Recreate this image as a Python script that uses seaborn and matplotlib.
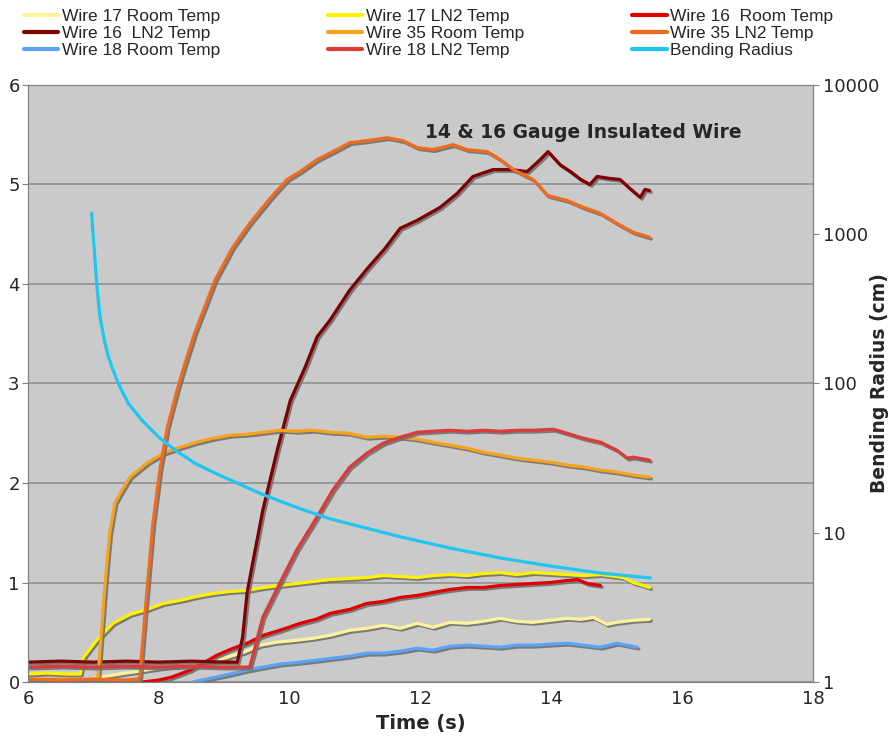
import pandas as pd
import seaborn as sns
import matplotlib.pyplot as plt
import matplotlib.patheffects as pe
from matplotlib.lines import Line2D

# data (time in s, left axis values)
w17_room_t = [7.0, 7.3, 7.6, 8.0, 8.5, 9.0, 9.3, 9.55, 9.8, 10.11, 10.36, 10.62, 10.92, 11.18, 11.43, 11.69, 11.95, 12.19, 12.45, 12.71,
              12.96, 13.22, 13.47, 13.72, 13.98, 14.24, 14.45, 14.64, 14.85, 15.0, 15.25, 15.5]
w17_room_v = [0.04, 0.07, 0.10, 0.14, 0.18, 0.24, 0.30, 0.37, 0.40, 0.42, 0.44, 0.47, 0.52, 0.54, 0.57, 0.54, 0.59, 0.55, 0.60, 0.59,
              0.61, 0.64, 0.61, 0.60, 0.62, 0.64, 0.63, 0.65, 0.58, 0.60, 0.62, 0.63]

w17_ln2_t = [6.0, 6.3, 6.6, 6.8, 6.84, 7.05, 7.3, 7.56, 7.82, 8.07, 8.32, 8.58, 8.83, 9.09, 9.35, 9.6, 9.85, 10.1, 10.36, 10.62,
             10.9, 11.18, 11.43, 11.69, 11.95, 12.19, 12.45, 12.71, 12.96, 13.22, 13.47, 13.72, 13.98, 14.24, 14.5, 14.75, 15.0, 15.1, 15.25, 15.5]
w17_ln2_v = [0.08, 0.09, 0.08, 0.08, 0.24, 0.42, 0.59, 0.68, 0.73, 0.79, 0.82, 0.86, 0.89, 0.91, 0.92, 0.95, 0.97, 0.99, 1.01, 1.03,
             1.04, 1.05, 1.07, 1.06, 1.05, 1.07, 1.08, 1.07, 1.09, 1.10, 1.08, 1.10, 1.09, 1.08, 1.07, 1.08, 1.06, 1.05, 1.0, 0.95]

w16_room_t = [7.75, 8.0, 8.2, 8.48, 8.7, 8.89, 9.1, 9.35, 9.6, 9.85, 10.16, 10.4, 10.62, 10.92, 11.18, 11.43, 11.69, 11.95, 12.19, 12.45,
              12.71, 12.96, 13.22, 13.47, 13.72, 13.98, 14.24, 14.4, 14.55, 14.75]
w16_room_v = [0.0, 0.02, 0.05, 0.12, 0.2, 0.27, 0.33, 0.39, 0.47, 0.52, 0.59, 0.63, 0.69, 0.73, 0.79, 0.81, 0.85, 0.87, 0.90, 0.93,
              0.95, 0.95, 0.97, 0.98, 0.99, 1.0, 1.02, 1.03, 0.99, 0.97]

w16_ln2_t = [6.0, 6.5, 7.0, 7.5, 8.0, 8.5, 9.0, 9.2, 9.28, 9.35, 9.45, 9.59, 9.81, 10.01, 10.24, 10.42, 10.62, 10.92, 11.18, 11.46,
             11.69, 11.95, 12.3, 12.56, 12.8, 13.11, 13.37, 13.63, 13.83, 13.95, 14.13, 14.29, 14.45, 14.59, 14.7, 14.9, 15.05, 15.2, 15.36, 15.43, 15.5]
w16_ln2_v = [0.20, 0.21, 0.20, 0.21, 0.20, 0.21, 0.20, 0.20, 0.45, 0.90, 1.25, 1.73, 2.33, 2.83, 3.17, 3.47, 3.64, 3.94, 4.15, 4.36,
             4.56, 4.64, 4.77, 4.91, 5.08, 5.15, 5.15, 5.13, 5.25, 5.33, 5.20, 5.13, 5.05, 5.0, 5.08, 5.06, 5.05, 4.96, 4.87, 4.95, 4.94]

w35_room_t = [6.0, 6.5, 7.0, 7.07, 7.18, 7.25, 7.33, 7.44, 7.56, 7.82, 8.07, 8.33, 8.58, 8.83, 9.09, 9.35, 9.6, 9.85, 10.1, 10.35,
              10.62, 10.9, 11.18, 11.45, 11.69, 11.95, 12.19, 12.45, 12.71, 12.96, 13.22, 13.47, 13.72, 13.98, 14.24, 14.5, 14.75, 15.0, 15.25, 15.5]
w35_room_v = [0.02, 0.03, 0.02, 0.05, 1.0, 1.5, 1.80, 1.93, 2.06, 2.20, 2.30, 2.36, 2.41, 2.45, 2.48, 2.49, 2.51, 2.53, 2.52, 2.53,
              2.51, 2.50, 2.46, 2.47, 2.46, 2.44, 2.41, 2.38, 2.35, 2.31, 2.28, 2.25, 2.23, 2.21, 2.18, 2.16, 2.13, 2.11, 2.08, 2.06]

w35_ln2_t = [6.0, 6.5, 7.0, 7.5, 7.68, 7.71, 7.79, 7.91, 8.02, 8.13, 8.29, 8.4, 8.55, 8.86, 9.13, 9.39, 9.7, 9.96, 10.16, 10.42,
             10.66, 10.92, 11.18, 11.49, 11.73, 11.95, 12.19, 12.5, 12.71, 13.02, 13.22, 13.42, 13.72, 13.94, 14.24, 14.49, 14.75, 15.0, 15.25, 15.5]
w35_ln2_v = [0.03, 0.02, 0.03, 0.02, 0.03, 0.05, 0.70, 1.60, 2.15, 2.56, 2.96, 3.20, 3.51, 4.04, 4.37, 4.61, 4.86, 5.05, 5.13, 5.25,
             5.33, 5.42, 5.44, 5.47, 5.44, 5.37, 5.35, 5.40, 5.35, 5.33, 5.25, 5.15, 5.05, 4.89, 4.84, 4.77, 4.71, 4.61, 4.52, 4.47]

w18_room_t = [8.52, 8.8, 9.09, 9.35, 9.59, 9.85, 10.16, 10.42, 10.66, 10.92, 11.18, 11.43, 11.69, 11.95, 12.19, 12.45, 12.71, 12.96, 13.22, 13.47,
              13.72, 13.98, 14.24, 14.5, 14.75, 15.0, 15.15, 15.31]
w18_room_v = [0.0, 0.04, 0.08, 0.12, 0.15, 0.18, 0.20, 0.22, 0.24, 0.26, 0.29, 0.29, 0.31, 0.34, 0.32, 0.36, 0.37, 0.36, 0.35, 0.37,
              0.37, 0.38, 0.39, 0.37, 0.35, 0.39, 0.37, 0.35]

w18_ln2_t = [6.0, 6.5, 7.0, 7.5, 8.0, 8.5, 9.0, 9.39, 9.59, 9.9, 10.11, 10.42, 10.66, 10.92, 11.18, 11.43, 11.69, 11.95, 12.19, 12.45,
             12.71, 12.96, 13.22, 13.47, 13.72, 14.03, 14.24, 14.49, 14.75, 15.0, 15.16, 15.25, 15.5]
w18_ln2_v = [0.15, 0.16, 0.15, 0.16, 0.15, 0.16, 0.15, 0.15, 0.65, 1.06, 1.33, 1.66, 1.93, 2.16, 2.30, 2.40, 2.46, 2.51, 2.52, 2.53,
             2.52, 2.53, 2.52, 2.53, 2.53, 2.54, 2.50, 2.45, 2.41, 2.33, 2.25, 2.26, 2.23]

# bending radius, right (log) axis, cm
bend_t = [6.974, 6.99, 7.014, 7.03, 7.05, 7.075, 7.101, 7.14, 7.177, 7.23, 7.28, 7.381, 7.534, 7.739, 7.992, 8.248, 8.554, 8.809, 9.089, 9.593,
          10.159, 10.618, 11.688, 12.45, 13.217, 13.98, 14.746, 15.511]
bend_r = [1381, 1067, 784, 622, 469, 362, 280, 225, 186, 151, 130, 100, 73.6, 56.9, 44.0, 35.8, 29.2, 25.7, 22.6, 18.0,
          14.5, 12.4, 9.4, 7.9, 6.78, 5.99, 5.37, 4.98]

names = ["Wire 17 Room Temp", "Wire 17 LN2 Temp", "Wire 16  Room Temp", "Wire 16  LN2 Temp",
         "Wire 35 Room Temp", "Wire 35 LN2 Temp", "Wire 18 Room Temp", "Wire 18 LN2 Temp"]
colors = ["#FFF29A", "#FFF200", "#E00000", "#800000", "#F7A21B", "#F26B1D", "#5CA3F7", "#DC3A3A"]
bend_color = "#1EC6F0"

series = [(w17_room_t, w17_room_v), (w17_ln2_t, w17_ln2_v), (w16_room_t, w16_room_v), (w16_ln2_t, w16_ln2_v),
          (w35_room_t, w35_room_v), (w35_ln2_t, w35_ln2_v), (w18_room_t, w18_room_v), (w18_ln2_t, w18_ln2_v)]
frames = []
for name, (t, v) in zip(names, series):
    frames.append(pd.DataFrame({"time": t, "value": v, "series": name}))
df = pd.concat(frames, ignore_index=True)

sns.set_style("white")
plt.rcParams["font.family"] = ["DejaVu Sans"]

fig = plt.figure(figsize=(8.91, 7.44), dpi=100)
ax = fig.add_axes([0.0314, 0.0833, 0.8811, 0.8025])
ax.set_facecolor("#CACACA")

sns.lineplot(data=df, x="time", y="value", hue="series", hue_order=names,
             palette=dict(zip(names, colors)), estimator=None, sort=False,
             legend=False, lw=2.3, ax=ax)
shadow = [pe.SimpleLineShadow(offset=(1.3, -1.3), shadow_color="#707070", alpha=0.9), pe.Normal()]
for ln in ax.lines:
    ln.set_path_effects(shadow)

ax.set_xlim(6, 18)
ax.set_ylim(0, 6)
ax.set_xticks(range(6, 19, 2))
ax.set_yticks(range(0, 7))
ax.grid(axis="y", color="#8C8C8C", lw=1.1)
ax.set_axisbelow(True)
ax.set_xlabel("Time (s)", fontsize=14, fontweight="bold", labelpad=4)
ax.set_ylabel("")
ax.tick_params(labelsize=13, length=4, color="#808080", pad=2)
for s in ax.spines.values():
    s.set_color("#808080")

ax2 = ax.twinx()
sns.lineplot(x=bend_t, y=bend_r, color=bend_color, lw=2.3, ax=ax2)
ax2.set_yscale("log")
ax2.set_ylim(1, 10000)
ax2.set_yticks([1, 10, 100, 1000, 10000])
ax2.set_yticklabels(["1", "10", "100", "1000", "10000"])
ax2.minorticks_off()
ax2.tick_params(labelsize=13, length=4, color="#808080", pad=3)
ax2.set_ylabel("Bending Radius (cm)", fontsize=13.5, fontweight="bold")
# label sits under the wide "10000" tick label, like the original
ax2.yaxis.set_label_coords(1.073, 0.5)
for s in ax2.spines.values():
    s.set_color("#808080")

ax.text(12.07, 5.52, "14 & 16 Gauge Insulated Wire", fontsize=13.5, fontweight="bold", va="center", zorder=5)

# legend, Excel fills row by row -> reorder for matplotlib's column fill
handles = [Line2D([], [], color=c, lw=3) for c in colors] + [Line2D([], [], color=bend_color, lw=3)]
labels = names + ["Bending Radius"]
order = [0, 3, 6, 1, 4, 7, 2, 5, 8]
fig.legend([handles[i] for i in order], [labels[i] for i in order], loc="upper left",
           bbox_to_anchor=(0.009, 1.009), ncol=3, frameon=False,
           handlelength=2.0, handletextpad=0.2, columnspacing=6.2, labelspacing=0.1,
           prop={"family": ["Liberation Sans", "DejaVu Sans"], "size": 12.5})

fig.savefig("out.png", dpi=100)
